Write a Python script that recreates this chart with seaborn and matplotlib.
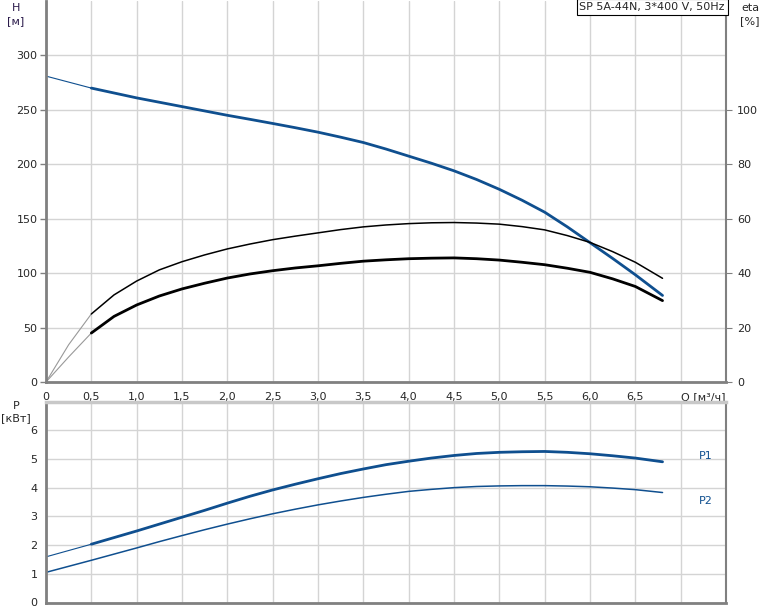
import matplotlib
matplotlib.use("Agg")
import matplotlib.pyplot as plt
import seaborn as sns
import pandas as pd

# --- data ---
q = [0.0, 0.25, 0.5, 0.75, 1.0, 1.25, 1.5, 1.75, 2.0, 2.25, 2.5, 2.75, 3.0, 3.25,
     3.5, 3.75, 4.0, 4.25, 4.5, 4.75, 5.0, 5.25, 5.5, 5.75, 6.0, 6.25, 6.5, 6.8]
head = [281, 275.5, 270, 265.5, 261, 257, 253, 249, 245, 241.3, 237.5, 233.6, 229.5, 224.9,
        220, 214, 207.5, 201, 194, 186, 177, 167, 156, 142.5, 128, 113.5, 98.5, 79.5]
eta_pump = [0, 13.7, 25, 32, 37.1, 41.2, 44.2, 46.7, 48.9, 50.7, 52.3, 53.6, 54.8, 56.0,
            57, 57.7, 58.2, 58.5, 58.6, 58.4, 58.0, 57.1, 55.9, 53.8, 51.3, 47.9, 44, 38.1]
eta_total = [0, 9.2, 18, 24.1, 28.3, 31.6, 34.2, 36.3, 38.2, 39.7, 40.9, 41.9, 42.7, 43.6,
             44.4, 44.9, 45.3, 45.5, 45.6, 45.3, 44.8, 44.0, 43.1, 41.8, 40.3, 37.9, 35.1, 29.9]
p1 = [1.59, 1.81, 2.03, 2.26, 2.49, 2.73, 2.97, 3.21, 3.46, 3.70, 3.92, 4.12, 4.31, 4.49,
      4.65, 4.80, 4.92, 5.03, 5.12, 5.19, 5.23, 5.25, 5.26, 5.23, 5.18, 5.11, 5.03, 4.90]
p2 = [1.05, 1.26, 1.47, 1.685, 1.90, 2.12, 2.33, 2.535, 2.73, 2.915, 3.09, 3.25, 3.40, 3.535,
      3.66, 3.77, 3.87, 3.94, 4.00, 4.04, 4.06, 4.07, 4.07, 4.055, 4.03, 3.985, 3.93, 3.83]

q_ticks = [0, 0.5, 1.0, 1.5, 2.0, 2.5, 3.0, 3.5, 4.0, 4.5, 5.0, 5.5, 6.0, 6.5]
q_labels = ["0", "0,5", "1,0", "1,5", "2,0", "2,5", "3,0", "3,5", "4,0", "4,5", "5,0", "5,5", "6,0", "6,5"]
h_ticks = [0, 50, 100, 150, 200, 250, 300]
eta_ticks = [0, 20, 40, 60, 80, 100]
p_ticks = [0, 1, 2, 3, 4, 5, 6]

title = "SP 5A-44N, 3*400 V, 50Hz"

df = pd.DataFrame({"Q": q, "H": head, "eta1": eta_pump, "eta2": eta_total, "P1": p1, "P2": p2})
start = df[df["Q"] <= 0.5]
main = df[df["Q"] >= 0.5]

sns.set_style("white")
plt.rcParams["font.family"] = ["DejaVu Sans"]
plt.rcParams["font.size"] = 8

blue = "#0f4f8f"
grid_c = "#d4d4d4"
spine_c = "#808080"

fig = plt.figure(figsize=(7.74, 6.11), dpi=100)
ax = fig.add_axes([46 / 774, 1 - 382 / 611, 680 / 774, 381 / 611])
ax2 = ax.twinx()
axp = fig.add_axes([46 / 774, 1 - 602.5 / 611, 680 / 774, 201 / 611])


def style(a):
    a.set_xlim(0, 7.5)
    a.set_xticks(q_ticks + [7.0])
    a.grid(True, color=grid_c, linewidth=1)
    for s in ["left", "bottom"]:
        a.spines[s].set_color(spine_c)
        a.spines[s].set_linewidth(2)
    a.spines["right"].set_color(spine_c)
    a.spines["right"].set_linewidth(1.5)
    a.spines["top"].set_color("#c8c8c8")
    a.spines["top"].set_linewidth(2.5)
    a.tick_params(axis="both", length=4, width=1, color=spine_c, pad=2, labelsize=8)
    a.set_xlabel("")
    a.set_ylabel("")


# head curve
sns.lineplot(data=start, x="Q", y="H", ax=ax, color=blue, linewidth=0.8)
sns.lineplot(data=main, x="Q", y="H", ax=ax, color=blue, linewidth=2)
# efficiency curves on the same pixel scale (eta = 0.4 * H)
for col, lw in [("eta1", 1.1), ("eta2", 2)]:
    sns.lineplot(x=start["Q"], y=start[col] / 0.4, ax=ax, color="#999999", linewidth=0.8)
    sns.lineplot(x=main["Q"], y=main[col] / 0.4, ax=ax, color="black", linewidth=lw)

style(ax)
ax.set_ylim(0, 350)
ax.set_yticks(h_ticks)
ax.set_xticklabels(q_labels + ["Q [м³/ч]"])
ax.tick_params(axis="x", pad=3)
ax.spines["top"].set_visible(False)
qlab = ax.get_xticklabels()[-1]
qlab.set_ha("left")
qlab.set_x(6.98)

ax2.set_ylim(0, 140)
ax2.set_yticks(eta_ticks)
ax2.tick_params(axis="y", length=4, color=spine_c, labelsize=8, pad=4)
for s in ax2.spines.values():
    s.set_visible(False)
ax2.grid(False)

# power curves
sns.lineplot(data=start, x="Q", y="P1", ax=axp, color=blue, linewidth=0.8)
sns.lineplot(data=main, x="Q", y="P1", ax=axp, color=blue, linewidth=2)
sns.lineplot(data=df, x="Q", y="P2", ax=axp, color=blue, linewidth=1.1)
style(axp)
axp.set_ylim(0, 7)
axp.set_yticks(p_ticks)
axp.set_xticklabels([])
axp.tick_params(axis="x", length=0)
axp.text(7.2, 5.1, "P1", color=blue, fontsize=8, va="center", ha="left")
axp.text(7.2, 3.55, "P2", color=blue, fontsize=8, va="center", ha="left")

# axis captions
fig.text(16 / 774, 1 - 8 / 611, "H", ha="center", va="center", fontsize=8, color="#2a1a4a")
fig.text(16 / 774, 1 - 21 / 611, "[м]", ha="center", va="center", fontsize=8, color="#2a1a4a")
fig.text(750 / 774, 1 - 8 / 611, "eta", ha="center", va="center", fontsize=8)
fig.text(750 / 774, 1 - 21 / 611, "[%]", ha="center", va="center", fontsize=8)
fig.text(16 / 774, 1 - 406 / 611, "P", ha="center", va="center", fontsize=8)
fig.text(16 / 774, 1 - 418 / 611, "[кВт]", ha="center", va="center", fontsize=8)

ax.text(0.9985, 0.997, title, transform=ax.transAxes, ha="right", va="top", fontsize=8,
        bbox=dict(boxstyle="square,pad=0.25", facecolor="white", edgecolor="black", linewidth=0.8))

fig.savefig("out.png", dpi=100)
